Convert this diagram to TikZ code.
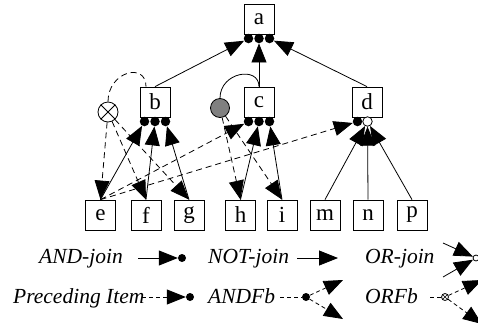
\documentclass[tikz,border=0pt]{standalone}
\usepackage{fontspec}
\setmainfont{Liberation Serif}
\usetikzlibrary{arrows.meta,calc}
\begin{document}
\begin{tikzpicture}[x=1pt,y=-1pt,
  box/.style={draw, line width=0.8pt, minimum width=30pt, minimum height=30pt, inner sep=0pt, font=\fontsize{23}{26}\selectfont},
  bdot/.style={circle, fill=black, minimum size=9.5pt, inner sep=0pt},
  wdot/.style={circle, draw, line width=0.8pt, fill=white, minimum size=9.5pt, inner sep=0pt},
  ln/.style={line width=0.8pt},
  arr/.style={ln, -{Triangle[length=19pt,width=15pt]}},
  dsh/.style={dash pattern=on 6pt off 4pt},
  sdsh/.style={dash pattern=on 4pt off 3pt},
  lbl/.style={font=\fontsize{21.5}{25}\selectfont\itshape, inner sep=0pt, anchor=base west},
  xcirc/.style={circle, draw, line width=0.8pt, fill=white, inner sep=0pt},
]
\useasboundingbox (0,0) rectangle (478,327);
\clip (0,0) rectangle (478,327);

% boxes
\node[box] (a) at (259,19) {a};
\node[box] (b) at (155,102) {b};
\node[box] (c) at (259,102) {c};
\node[box] (d) at (367,102) {d};
\node[box] (e) at (100.5,215) {e};
\node[box] (f) at (146,215) {f};
\node[box] (g) at (189,215) {g};
\node[box] (h) at (240.5,215) {h};
\node[box] (i) at (282,215) {i};
\node[box] (m) at (325,215) {m};
\node[box] (n) at (368,215) {n};
\node[box] (p) at (412,215) {p};

% join dots
\node[bdot] (a1) at (248.5,38.5) {};
\node[bdot] (a2) at (259,38.5) {};
\node[bdot] (a3) at (269.5,38.5) {};
\node[bdot] (b1) at (144.5,121.5) {};
\node[bdot] (b2) at (155,121.5) {};
\node[bdot] (b3) at (165.5,121.5) {};
\node[bdot] (c1) at (248.5,121.5) {};
\node[bdot] (c2) at (259,121.5) {};
\node[bdot] (c3) at (269.5,121.5) {};
\node[bdot] (d1) at (357.5,121.5) {};
\node[wdot] (d2) at (367.5,121.5) {};

% feedback circles
\node[xcirc, minimum size=20pt] (ox) at (108,112) {};
\draw[ln] (ox.45) -- (ox.225) (ox.135) -- (ox.315);
\node[circle, draw, line width=0.8pt, fill=gray, minimum size=19pt, inner sep=0pt] (gc) at (220,108) {};

% edges to a
\draw[arr] (b.north) -- (a1);
\draw[arr] (c.north) -- (a2);
\draw[arr] (d.north) -- (a3);
% edges to b
\draw[arr] (e.north) -- (b1);
\draw[arr] (f.north) -- (b2);
\draw[arr] (g.north) -- (b3);
% edges to c
\draw[arr,dsh] (e.north) -- (c1);
\draw[arr] (h.north) -- (c2);
\draw[arr] (i.north) -- (c3);
% edges to d
\draw[arr,dsh] (e.north) -- (d1);
\draw[arr] (m.north) -- (d2);
\draw[arr] (n.north) -- (d2);
\draw[arr] (p.north) -- (d2);
% feedback
\draw[arr,dsh] (ox) -- (e.north);
\draw[arr,dsh] (ox) -- (f.north);
\draw[arr,dsh] (ox) -- (g.north);
\draw[arr,dsh] (gc) -- (h.north);
\draw[arr,dsh] (gc) -- (i.north);
\draw[ln,dsh] (ox.north) .. controls +(0,-30) and +(0,-25) .. ($(b.north)+(-9,0)$);
\draw[ln] (gc.north) .. controls +(0,-26) and +(0,-21) .. (c.north);

% legend row 1
\node[lbl] (t1) at (39,263) {AND-join};
\coordinate (l1s) at (138,258);
\node[bdot, minimum size=8pt] (l1d) at (182,258) {};
\draw[arr] (l1s) -- (l1d);
\node[lbl] (t2) at (208,263) {NOT-join};
\coordinate (l2s) at (297,258);
\coordinate (l2e) at (338,258);
\draw[arr] (l2s) -- (l2e);
\node[lbl] (t3) at (365,263) {OR-join};
\node[wdot, minimum size=6pt] (l3d) at (476,258) {};
\coordinate (l3a) at (443,243);
\coordinate (l3b) at (443,277);
\draw[arr] (l3a) -- (l3d);
\draw[arr] (l3b) -- (l3d);

% legend row 2
\node[lbl] (t4) at (13,303) {Preceding Item};
\coordinate (l4s) at (142,297);
\node[bdot, minimum size=8pt] (l4d) at (190,297) {};
\draw[arr,sdsh] (l4s) -- (l4d);
\node[lbl] (t5) at (208,303) {ANDFb};
\coordinate (l5s) at (280,297);
\node[bdot, minimum size=8pt] (l5d) at (306,297) {};
\draw[ln,sdsh] (l5s) -- (l5d);
\coordinate (l5u) at (343,280);
\coordinate (l5l) at (343,319);
\draw[arr,sdsh] (l5d) -- (l5u);
\draw[arr,sdsh] (l5d) -- (l5l);
\node[lbl] (t6) at (365,303) {ORFb};
\coordinate (l6s) at (430,297);
\node[xcirc, minimum size=7pt] (l6o) at (445,297) {};
\draw[line width=0.5pt] (l6o.45) -- (l6o.225) (l6o.135) -- (l6o.315);
\draw[ln,sdsh] (l6s) -- (l6o);
\coordinate (l6u) at (482,280);
\coordinate (l6l) at (482,324);
\draw[arr,sdsh] (l6o) -- (l6u);
\draw[arr,sdsh] (l6o) -- (l6l);
\end{tikzpicture}
\end{document}
